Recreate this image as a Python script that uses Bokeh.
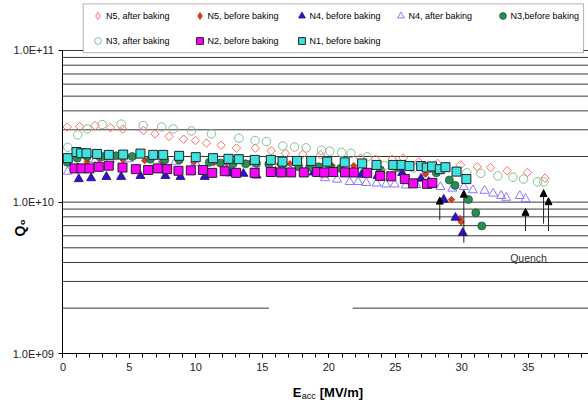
import math
from bokeh.plotting import figure
from bokeh.models import (ColumnDataSource, Legend, LegendItem, Label, Arrow, NormalHead,
                          SingleIntervalTicker, FixedTicker, CustomJSTickFormatter,
                          BoxAnnotation, Range1d)
from bokeh.embed import file_html
from bokeh.resources import INLINE

# ---------------- data ----------------
N5_AFTER_E = [0.32, 1.26, 2.41, 3.57, 4.50, 6.06, 6.92, 7.98, 9.08, 9.97, 10.80, 11.89, 13.05, 14.48, 15.67,
              16.74, 18.04, 19.38, 22.39, 23.51, 24.77, 25.60, 26.77, 28.18, 29.91, 31.17, 32.17, 33.42, 34.95, 36.27]
N5_AFTER_Q = [3.13e10, 3.15e10, 3.2e10, 3.1e10, 3.03e10, 2.97e10, 2.82e10, 2.71e10, 2.6e10, 2.55e10, 2.45e10,
              2.37e10, 2.27e10, 2.27e10, 2.18e10, 2.1e10, 2.07e10, 2.05e10, 1.95e10, 1.92e10, 1.92e10, 1.95e10,
              1.84e10, 1.8e10, 1.76e10, 1.71e10, 1.69e10, 1.61e10, 1.57e10, 1.44e10]

N5_BEFORE_E = [1.82, 2.75, 4.53, 6.15, 7.46, 9.84, 11.35, 12.3, 14.11, 16.29, 17.08, 20.26, 21.88, 27.28,
               29.23, 29.86, 29.96]
N5_BEFORE_Q = [1.85e10, 1.92e10, 1.9e10, 1.88e10, 1.85e10, 1.83e10, 1.82e10, 1.8e10, 1.83e10, 1.78e10,
               1.79e10, 1.74e10, 1.74e10, 1.53e10, 1.04e10, 7.8e9, 7.41e9]

N4_BEFORE_E = [1.19, 2.12, 3.27, 4.38, 5.83, 7.71, 8.84, 10.66, 12.6, 13.58, 14.56, 15.99, 18.85, 22.46, 23.66,
               25.52, 26.94, 27.52, 28.65, 29.53, 30.08]
N4_BEFORE_Q = [1.42e10, 1.44e10, 1.47e10, 1.47e10, 1.49e10, 1.49e10, 1.47e10, 1.47e10, 1.55e10, 1.54e10,
               1.5e10, 1.59e10, 1.57e10, 1.52e10, 1.49e10, 1.56e10, 1.43e10, 1.36e10, 1.04e10, 7.9e9, 6.27e9]

N4_AFTER_E = [0.36, 2.45, 3.55, 4.95, 7.41, 8.47, 9.97, 12.48, 14.48, 17.12, 19.71, 20.63, 21.57, 22.2, 22.82,
              23.59, 24.3, 24.96, 25.79, 26.58, 27.55, 28.4, 29.29, 30.16, 30.84, 31.72, 32.37, 32.97, 33.35,
              34.37, 34.8]
N4_AFTER_Q = [1.59e10, 1.9e10, 1.9e10, 1.92e10, 1.85e10, 1.85e10, 1.82e10, 1.76e10, 1.72e10, 1.63e10, 1.44e10,
              1.41e10, 1.36e10, 1.36e10, 1.34e10, 1.33e10, 1.31e10, 1.31e10, 1.29e10, 1.3e10, 1.29e10, 1.26e10,
              1.23e10, 1.26e10, 1.2e10, 1.19e10, 1.14e10, 1.1e10, 1.07e10, 1.1e10, 1.05e10]

N3_BEFORE_E = [0.32, 1.07, 1.82, 2.95, 4.0, 5.21, 6.58, 7.66, 8.74, 11.01, 11.85, 12.79, 13.75, 14.56, 15.49,
               16.49, 17.74, 18.55, 19.25, 20.08, 20.88, 23.89, 25.17, 28.09, 29.07, 29.5, 30.51, 31.06, 31.51]
N3_BEFORE_Q = [1.83e10, 1.95e10, 2.0e10, 2.0e10, 2.02e10, 2.0e10, 1.92e10, 1.9e10, 1.9e10, 1.83e10, 1.81e10,
               1.79e10, 1.79e10, 1.8e10, 1.78e10, 1.74e10, 1.71e10, 1.7e10, 1.71e10, 1.7e10, 1.67e10, 1.63e10,
               1.69e10, 1.56e10, 1.4e10, 1.29e10, 1.04e10, 8.5e9, 6.97e9]

N3_AFTER_E = [0.36, 1.11, 1.82, 2.95, 4.38, 6.03, 7.43, 8.29, 9.67, 11.17, 13.24, 14.45, 15.31, 16.54, 17.42,
              18.30, 19.45, 20.08, 20.96, 21.67, 22.89, 24.19, 24.83, 26.37, 30.38, 31.44, 32.72, 33.86, 34.65,
              35.70, 36.18]
N3_AFTER_Q = [2.3e10, 2.78e10, 3.04e10, 3.25e10, 3.27e10, 3.2e10, 3.13e10, 3.04e10, 2.95e10, 2.82e10, 2.64e10,
              2.55e10, 2.51e10, 2.35e10, 2.31e10, 2.28e10, 2.2e10, 2.17e10, 2.13e10, 2.1e10, 1.99e10, 1.74e10,
              1.73e10, 1.68e10, 1.56e10, 1.55e10, 1.49e10, 1.46e10, 1.42e10, 1.36e10, 1.36e10]

N2_E = [0.87, 1.39, 1.99, 2.69, 3.45, 4.48, 5.48, 6.41, 7.13, 7.84, 8.69, 9.62, 10.53, 11.23, 12.17, 13.03,
        14.42, 15.64, 16.42, 17.17, 18.12, 19.13, 19.65, 20.33, 21.22, 21.88, 22.89, 23.87, 24.7, 25.72, 26.35,
        27.39, 27.79]
N2_Q = [1.67e10, 1.67e10, 1.67e10, 1.71e10, 1.74e10, 1.69e10, 1.65e10, 1.63e10, 1.67e10, 1.65e10, 1.61e10,
        1.62e10, 1.63e10, 1.56e10, 1.6e10, 1.56e10, 1.56e10, 1.58e10, 1.57e10, 1.57e10, 1.57e10, 1.58e10,
        1.57e10, 1.58e10, 1.57e10, 1.57e10, 1.56e10, 1.49e10, 1.48e10, 1.42e10, 1.33e10, 1.32e10, 1.34e10]

N1_E = [0.36, 1.02, 1.37, 1.77, 2.57, 3.45, 4.53, 5.83, 6.79, 7.54, 8.74, 9.99, 11.29, 12.45, 13.23, 14.43,
        15.64, 16.52, 17.61, 18.68, 19.88, 21.2, 22.51, 23.59, 24.85, 25.47, 26.07, 26.95, 27.37, 27.77, 28.35,
        28.78, 29.61, 30.35]
N1_Q = [1.95e10, 2.14e10, 2.1e10, 2.1e10, 2.08e10, 2.05e10, 2.06e10, 2.09e10, 2.05e10, 2.05e10, 2.02e10,
        1.98e10, 1.95e10, 1.93e10, 1.92e10, 1.9e10, 1.9e10, 1.85e10, 1.87e10, 1.87e10, 1.85e10, 1.83e10, 1.8e10,
        1.76e10, 1.76e10, 1.76e10, 1.73e10, 1.73e10, 1.69e10, 1.72e10, 1.65e10, 1.7e10, 1.59e10, 1.42e10]

# quench arrows: field, tail value, tip value
QUENCH_E = [28.35, 30.16, 34.8, 36.16, 36.53]
QUENCH_TAIL = [7.6e9, 5.4e9, 6.45e9, 7.2e9, 6.45e9]
QUENCH_TIP = [1.08e10, 1.2e10, 9.1e9, 1.21e10, 1.07e10]
QUENCH_TEXT = "Quench"
QUENCH_AT = (35.03, 4.29e9)

LABELS = ["N5, after baking", "N5, before baking", "N4, before baking", "N4, after baking",
          "N3,before baking", "N3, after baking", "N2, before baking", "N1, before baking"]
X_TICK_STEP = 5
Y_TICKS = [1e9, 1e10, 1e11]

# ---------------- figure ----------------
FONT = "Liberation Sans"
W, H = 588, 402
X_START, X_END = -4.70, 39.54           # frame spans the whole canvas; axes sit at E=0 / Q=1e9
Y_START, Y_END = 10 ** 8.6789, 10 ** 11.3297

p = figure(width=W, height=H, output_backend="svg", toolbar_location=None, title=None,
           x_range=Range1d(X_START, X_END), y_range=Range1d(Y_START, Y_END), y_axis_type="log",
           min_border_left=0, min_border_right=0, min_border_top=0, min_border_bottom=0)
p.outline_line_color = None
p.xgrid.visible = False
p.ygrid.visible = False
p.background_fill_color = "white"
p.border_fill_color = "white"

# horizontal grid lines at 1..9 x 10^n (with the gap seen on the 2e9 line)
GRID_COLOR = "#3a3a3a"
gx0, gx1, gy = [], [], []
for d in (9, 10):
    for k in range(1, 10):
        lvl = k * 10 ** d
        if lvl == 1e9:
            continue
        if k == 2 and d == 9:
            gx0 += [0, 21.8]; gx1 += [15.5, X_END]; gy += [lvl, lvl]
        else:
            gx0.append(0); gx1.append(X_END); gy.append(lvl)
gx0.append(0); gx1.append(X_END); gy.append(1e11)
p.segment(x0=gx0, y0=gy, x1=gx1, y1=gy, line_color=GRID_COLOR, line_width=1)

# series, drawn in legend order
N5A_STYLE = dict(fill_color=None, line_color="#ff6b5e", line_width=1)
N5B_STYLE = dict(fill_color="#e5391a", line_color="#b52410", line_width=0.8)
r_n5a = p.scatter(N5_AFTER_E, N5_AFTER_Q, marker="square", angle=math.pi / 4, size=6, **N5A_STYLE)
r_n5b = p.scatter(N5_BEFORE_E, N5_BEFORE_Q, marker="square", angle=math.pi / 4, size=4.5, **N5B_STYLE)
r_n4b = p.scatter(N4_BEFORE_E, N4_BEFORE_Q, marker="triangle", size=9,
                  fill_color="#3510c8", line_color="#22088a", line_width=0.8)
r_n4a = p.scatter(N4_AFTER_E, N4_AFTER_Q, marker="triangle", size=9,
                  fill_color=None, line_color="#8a78ff", line_width=1)
r_n3b = p.scatter(N3_BEFORE_E, N3_BEFORE_Q, marker="circle", size=8,
                  fill_color="#2e8b57", line_color="#1c5a38", line_width=0.8)
r_n3a = p.scatter(N3_AFTER_E, N3_AFTER_Q, marker="circle", size=8.5,
                  fill_color=None, line_color="#84c095", line_width=1)
r_n2 = p.scatter(N2_E, N2_Q, marker="square", size=9,
                 fill_color="#ff00ff", line_color="#222222", line_width=1)
r_n1 = p.scatter(N1_E, N1_Q, marker="square", size=9,
                 fill_color="#3ce3e0", line_color="#222222", line_width=1)
# legend proxies for the diamond series (legend glyphs ignore marker angle):
# same data at zero size, so they only appear (at legend size) inside the legend
px_n5a = p.scatter(N5_AFTER_E[:1], N5_AFTER_Q[:1], marker="diamond", size=0, **N5A_STYLE)
px_n5b = p.scatter(N5_BEFORE_E[:1], N5_BEFORE_Q[:1], marker="diamond", size=0, **N5B_STYLE)
legend_renderers = [px_n5a, px_n5b, r_n4b, r_n4a, r_n3b, r_n3a, r_n2, r_n1]

# quench arrows
qsrc = ColumnDataSource(dict(x=QUENCH_E, y0=QUENCH_TAIL, y1=QUENCH_TIP))
p.add_layout(Arrow(end=NormalHead(size=7, fill_color="black", line_color="black", line_width=1),
                   x_start="x", y_start="y0", x_end="x", y_end="y1", source=qsrc,
                   line_color="#222222", line_width=1))
p.add_layout(Label(x=QUENCH_AT[0], y=QUENCH_AT[1], text=QUENCH_TEXT, text_align="center",
                   text_baseline="middle", text_font=FONT, text_font_size="10.5px", text_color="#333333"))

# axes (fixed at E=0 and Q=1e9)
p.xaxis.fixed_location = Y_TICKS[0]
p.xaxis.bounds = (0, X_END)
p.xaxis.ticker = SingleIntervalTicker(interval=X_TICK_STEP, num_minor_ticks=5)
p.xaxis.axis_line_color = "black"
p.xaxis.major_tick_line_color = "black"
p.xaxis.minor_tick_line_color = "black"
p.xaxis.major_tick_out = 4
p.xaxis.major_tick_in = 0
p.xaxis.minor_tick_out = 4
p.xaxis.minor_tick_in = 0
p.xaxis.major_label_standoff = 5
p.xaxis.major_label_text_font = FONT
p.xaxis.major_label_text_font_size = "11px"
p.xaxis.major_label_text_color = "#222222"

p.yaxis.fixed_location = 0
p.yaxis.bounds = (Y_TICKS[0], Y_TICKS[-1])
p.yaxis.ticker = FixedTicker(ticks=Y_TICKS)
p.yaxis.formatter = CustomJSTickFormatter(code="""
    const e = Math.round(Math.log10(tick));
    return "1.0E+" + (e < 10 ? "0" : "") + e;
""")
p.yaxis.axis_line_color = "black"
p.yaxis.major_tick_line_color = "black"
p.yaxis.minor_tick_line_color = None
p.yaxis.major_tick_out = 4
p.yaxis.major_tick_in = 0
p.yaxis.major_label_standoff = 5
p.yaxis.major_label_text_font = FONT
p.yaxis.major_label_text_font_size = "11px"
p.yaxis.major_label_text_color = "#222222"

# axis titles as labels (with subscripts)
p.add_layout(Label(x=-3.2, y=6.77e9, text="Q\u2080", angle=math.pi / 2, text_align="center",
                   text_baseline="middle", text_font=FONT, text_font_size="14px",
                   text_font_style="bold", text_color="black"))
XT_X, XT_Y = 17.29, 10 ** 8.7448
p.add_layout(Label(x=XT_X, y=XT_Y, text="E", text_align="left", text_baseline="middle",
                   text_font=FONT, text_font_size="13px", text_font_style="bold", text_color="black"))
p.add_layout(Label(x=XT_X, y=XT_Y, x_offset=9, y_offset=-3, text="acc", text_align="left",
                   text_baseline="middle", text_font=FONT, text_font_size="9px", text_color="black"))
p.add_layout(Label(x=XT_X, y=XT_Y, x_offset=27, text="[MV/m]", text_align="left", text_baseline="middle",
                   text_font=FONT, text_font_size="13px", text_font_style="bold", text_color="black"))

# legend box + per-column legends
p.add_layout(BoxAnnotation(left=1.52, right=39.17, top=10 ** 11.3073, bottom=10 ** 10.9855,
                           fill_color="white", fill_alpha=1, line_color="black", line_width=1))
columns = [[0, 5], [1, 6], [2, 7], [3], [4]]
glyph_centers = [97.4, 199.0, 301.0, 400.0, 502.0]
ROW_TOP, GLYPH, GAP = 7.1, 17, 8
for cx, idxs in zip(glyph_centers, columns):
    items = [LegendItem(label=LABELS[i], renderers=[legend_renderers[i]]) for i in idxs]
    height = GLYPH * len(idxs) + GAP * (len(idxs) - 1)
    lg = Legend(items=items, location=(cx - GLYPH / 2, H - (ROW_TOP + height)), orientation="vertical",
                glyph_width=GLYPH, glyph_height=GLYPH, label_height=GLYPH, label_standoff=0, spacing=GAP,
                padding=0, margin=0, border_line_color=None, background_fill_alpha=0,
                label_text_font=FONT, label_text_font_size="9px", label_text_color="black")
    p.add_layout(lg)

open("out.html", "w").write(file_html(p, INLINE))
